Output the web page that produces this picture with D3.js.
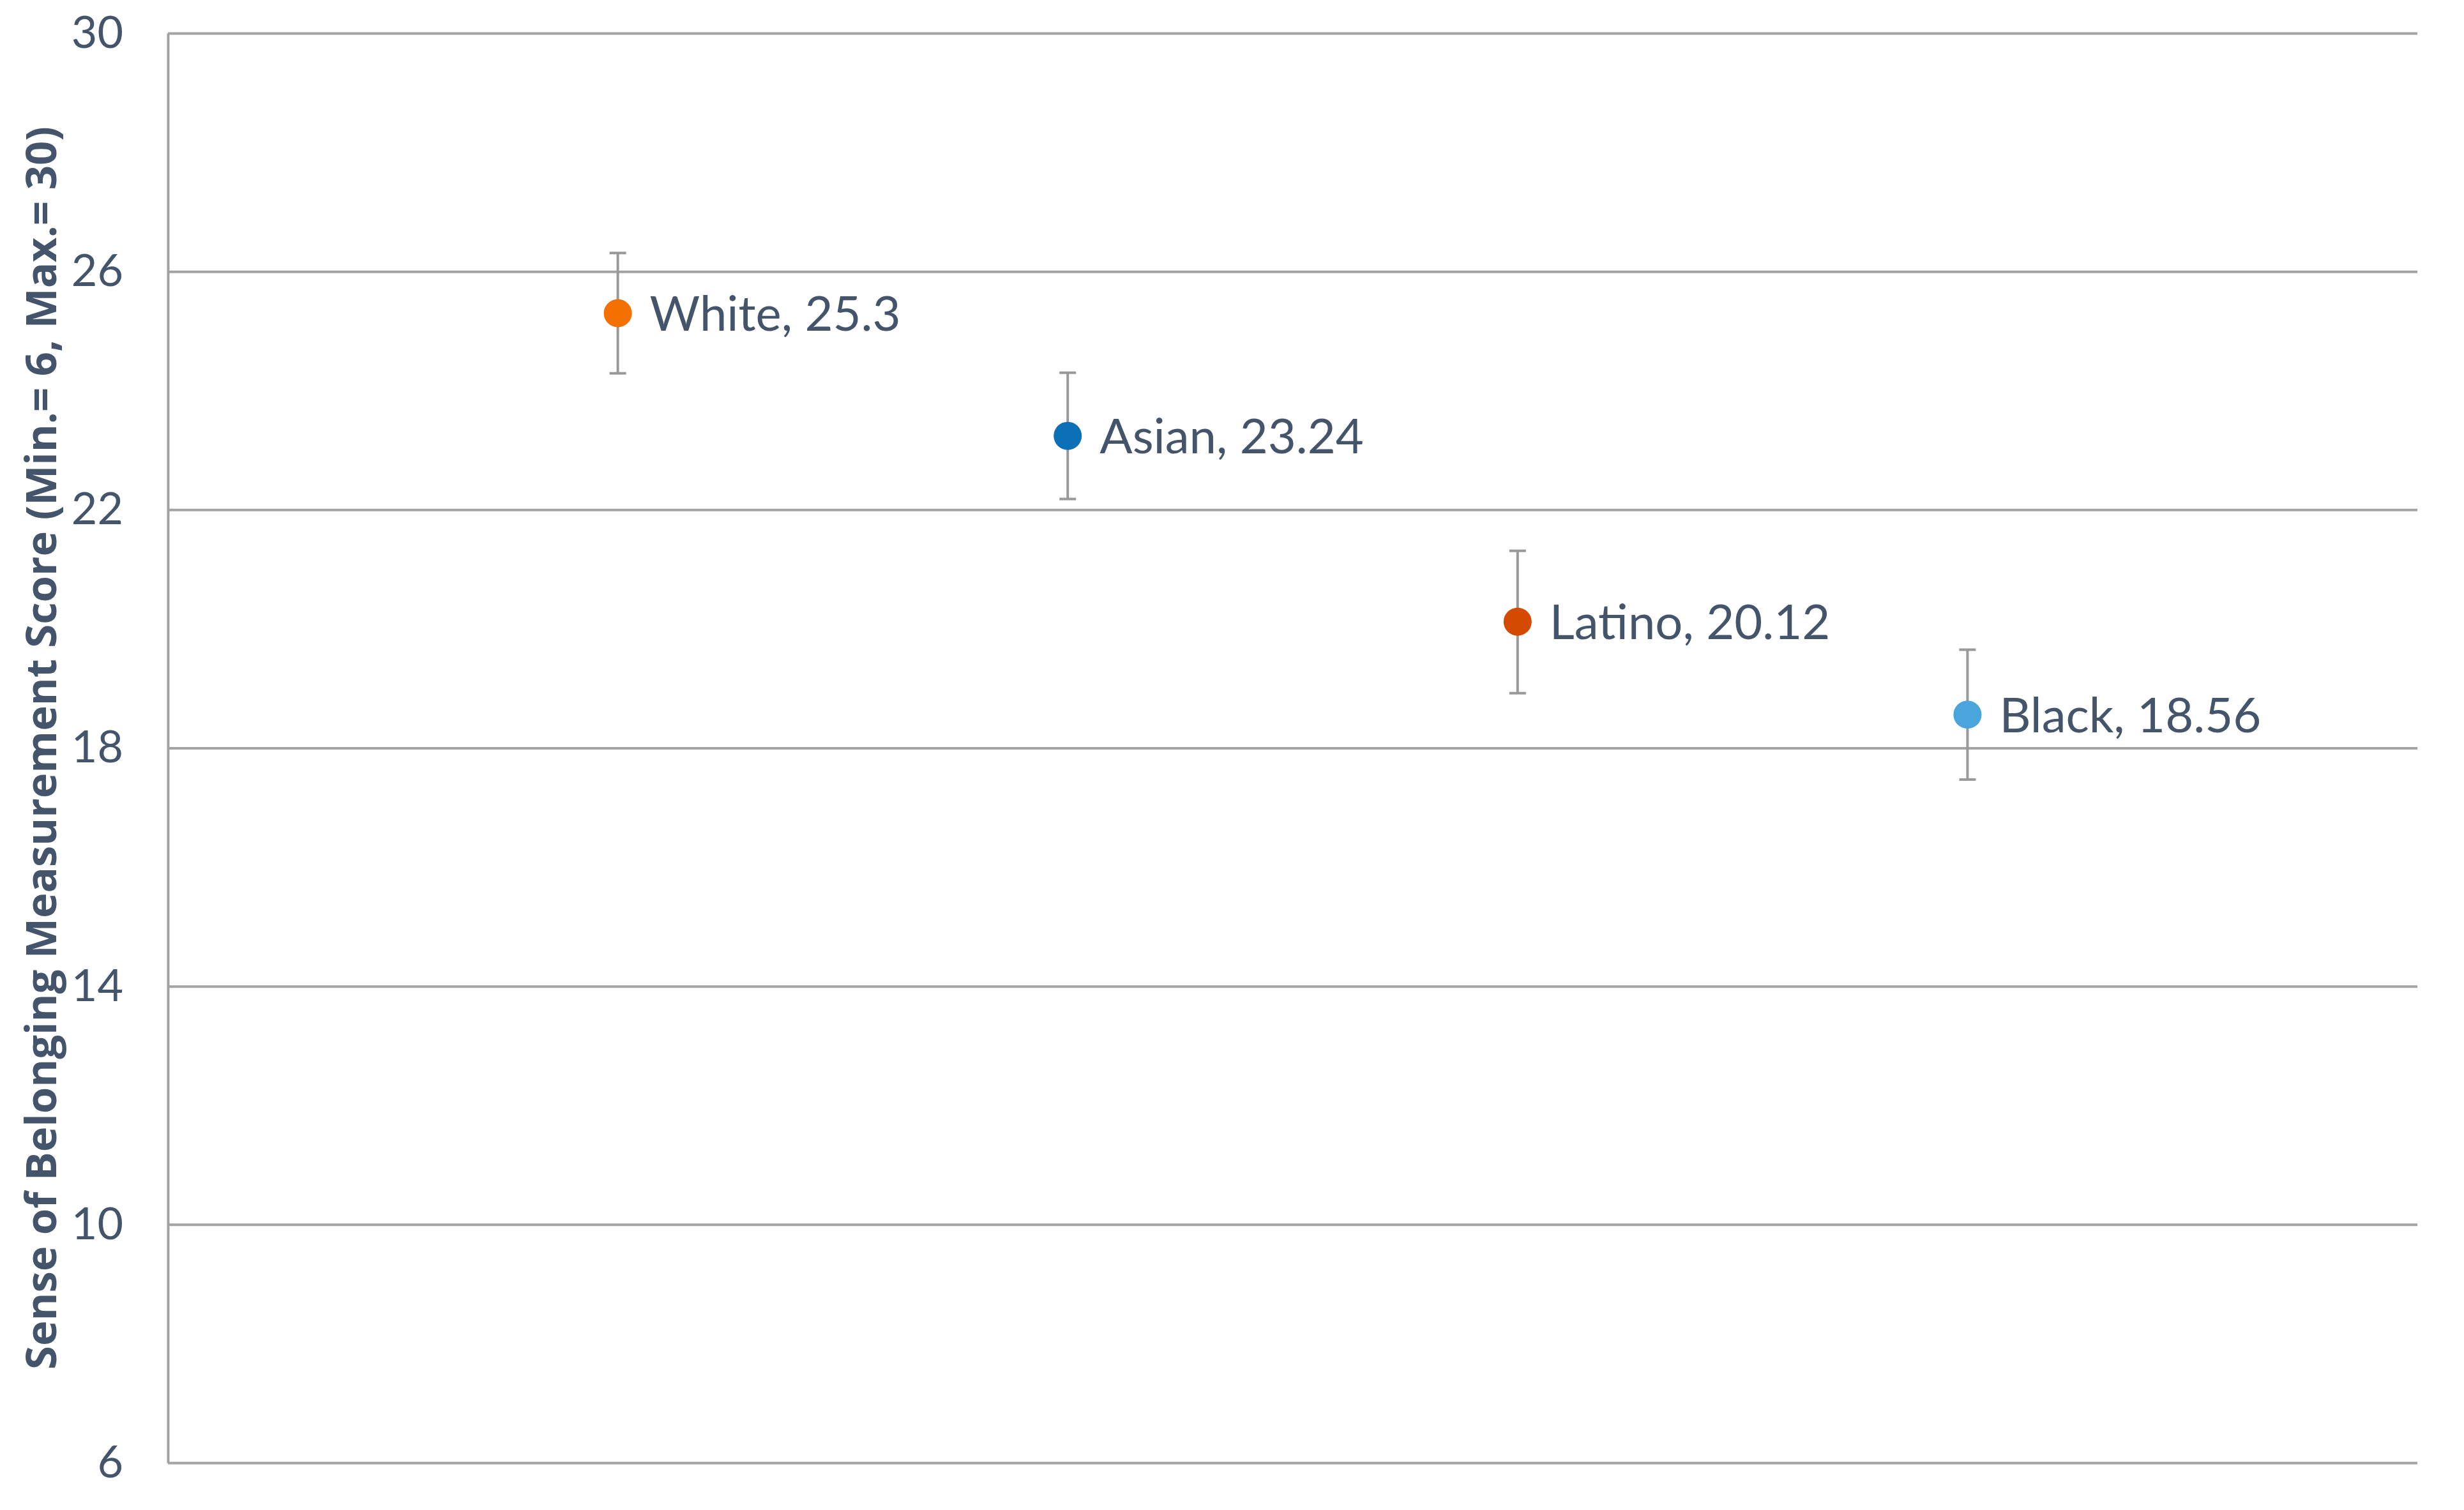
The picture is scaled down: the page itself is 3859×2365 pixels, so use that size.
<!DOCTYPE html>
<html>
<head>
<meta charset="utf-8">
<script src="https://cdn.jsdelivr.net/npm/d3@7"></script>
<style>
  html, body { margin: 0; padding: 0; background: #fff; }
  svg { display: block; }
</style>
</head>
<body>
<div id="chart"></div>
<script>
/* ═══ Sense of Belonging — dot plot with error bars ═══ */

const categories = ['White', 'Asian', 'Latino', 'Black'];
const means      = [25.3, 23.24, 20.12, 18.56];
const errLow     = [24.29, 22.18, 18.92, 17.47];
const errHigh    = [26.31, 24.30, 21.31, 19.65];
const yTicks     = [6, 10, 14, 18, 22, 26, 30];
const yTitle     = 'Sense of Belonging Measurement Score (Min.= 6, Max.= 30)';

const POINT_COLORS = ['#f47000', '#0b70b6', '#d44a00', '#4aa5dc'];
const TEXT = '#44546a';
const GRID = '#a3a3a3';

const W = 3859, H = 2365;
const margin = { top: 52, right: 73, bottom: 74, left: 263 };

const rows = categories.map((c, i) => ({
  cat: c, mean: means[i], lo: errLow[i], hi: errHigh[i], color: POINT_COLORS[i]
}));

const svg = d3.select('#chart').append('svg')
  .attr('width', W).attr('height', H)
  .style('background', '#fff');

const x = d3.scalePoint().domain(categories)
  .range([margin.left, W - margin.right]).padding(1);
const y = d3.scaleLinear().domain([6, 30])
  .range([H - margin.bottom, margin.top]);

// ── Y axis + gridlines ──
const yAxis = svg.append('g')
  .attr('transform', `translate(${margin.left},0)`)
  .call(d3.axisLeft(y).tickValues(yTicks)
    .tickSize(-(W - margin.left - margin.right))
    .tickSizeOuter(0).tickPadding(70)
    .tickFormat(d3.format('d')));

yAxis.select('.domain').attr('stroke', GRID).attr('stroke-width', 4);
yAxis.selectAll('.tick line').attr('stroke', GRID).attr('stroke-width', 4);
yAxis.selectAll('.tick text')
  .attr('fill', TEXT).attr('font-family', 'Lato, sans-serif')
  .attr('font-size', '70px').attr('dy', '0.32em');

// ── Axis title ──
svg.append('text')
  .attr('transform', `translate(88,${(margin.top + H - margin.bottom) / 2}) rotate(-90)`)
  .attr('text-anchor', 'middle')
  .attr('font-family', '"Open Sans", sans-serif')
  .attr('font-weight', 700).attr('font-size', '67px')
  .attr('fill', TEXT)
  .text(yTitle);

// ── Error bars ──
const capW = 13;
const err = svg.append('g').selectAll('g').data(rows).join('g')
  .attr('stroke', '#999').attr('stroke-width', 4);

err.append('line')
  .attr('x1', d => x(d.cat)).attr('x2', d => x(d.cat))
  .attr('y1', d => y(d.lo)).attr('y2', d => y(d.hi));
err.append('line')
  .attr('x1', d => x(d.cat) - capW).attr('x2', d => x(d.cat) + capW)
  .attr('y1', d => y(d.hi)).attr('y2', d => y(d.hi));
err.append('line')
  .attr('x1', d => x(d.cat) - capW).attr('x2', d => x(d.cat) + capW)
  .attr('y1', d => y(d.lo)).attr('y2', d => y(d.lo));

// ── Points ──
svg.append('g').selectAll('circle').data(rows).join('circle')
  .attr('cx', d => x(d.cat)).attr('cy', d => y(d.mean))
  .attr('r', 22)
  .attr('fill', d => d.color);

// ── Data labels ──
svg.append('g').selectAll('text').data(rows).join('text')
  .attr('x', d => x(d.cat) + 50).attr('y', d => y(d.mean))
  .attr('dy', '0.36em')
  .attr('font-family', 'Lato, sans-serif').attr('font-size', '76px')
  .attr('fill', TEXT)
  .text(d => `${d.cat}, ${d.mean}`);
</script>
</body>
</html>
